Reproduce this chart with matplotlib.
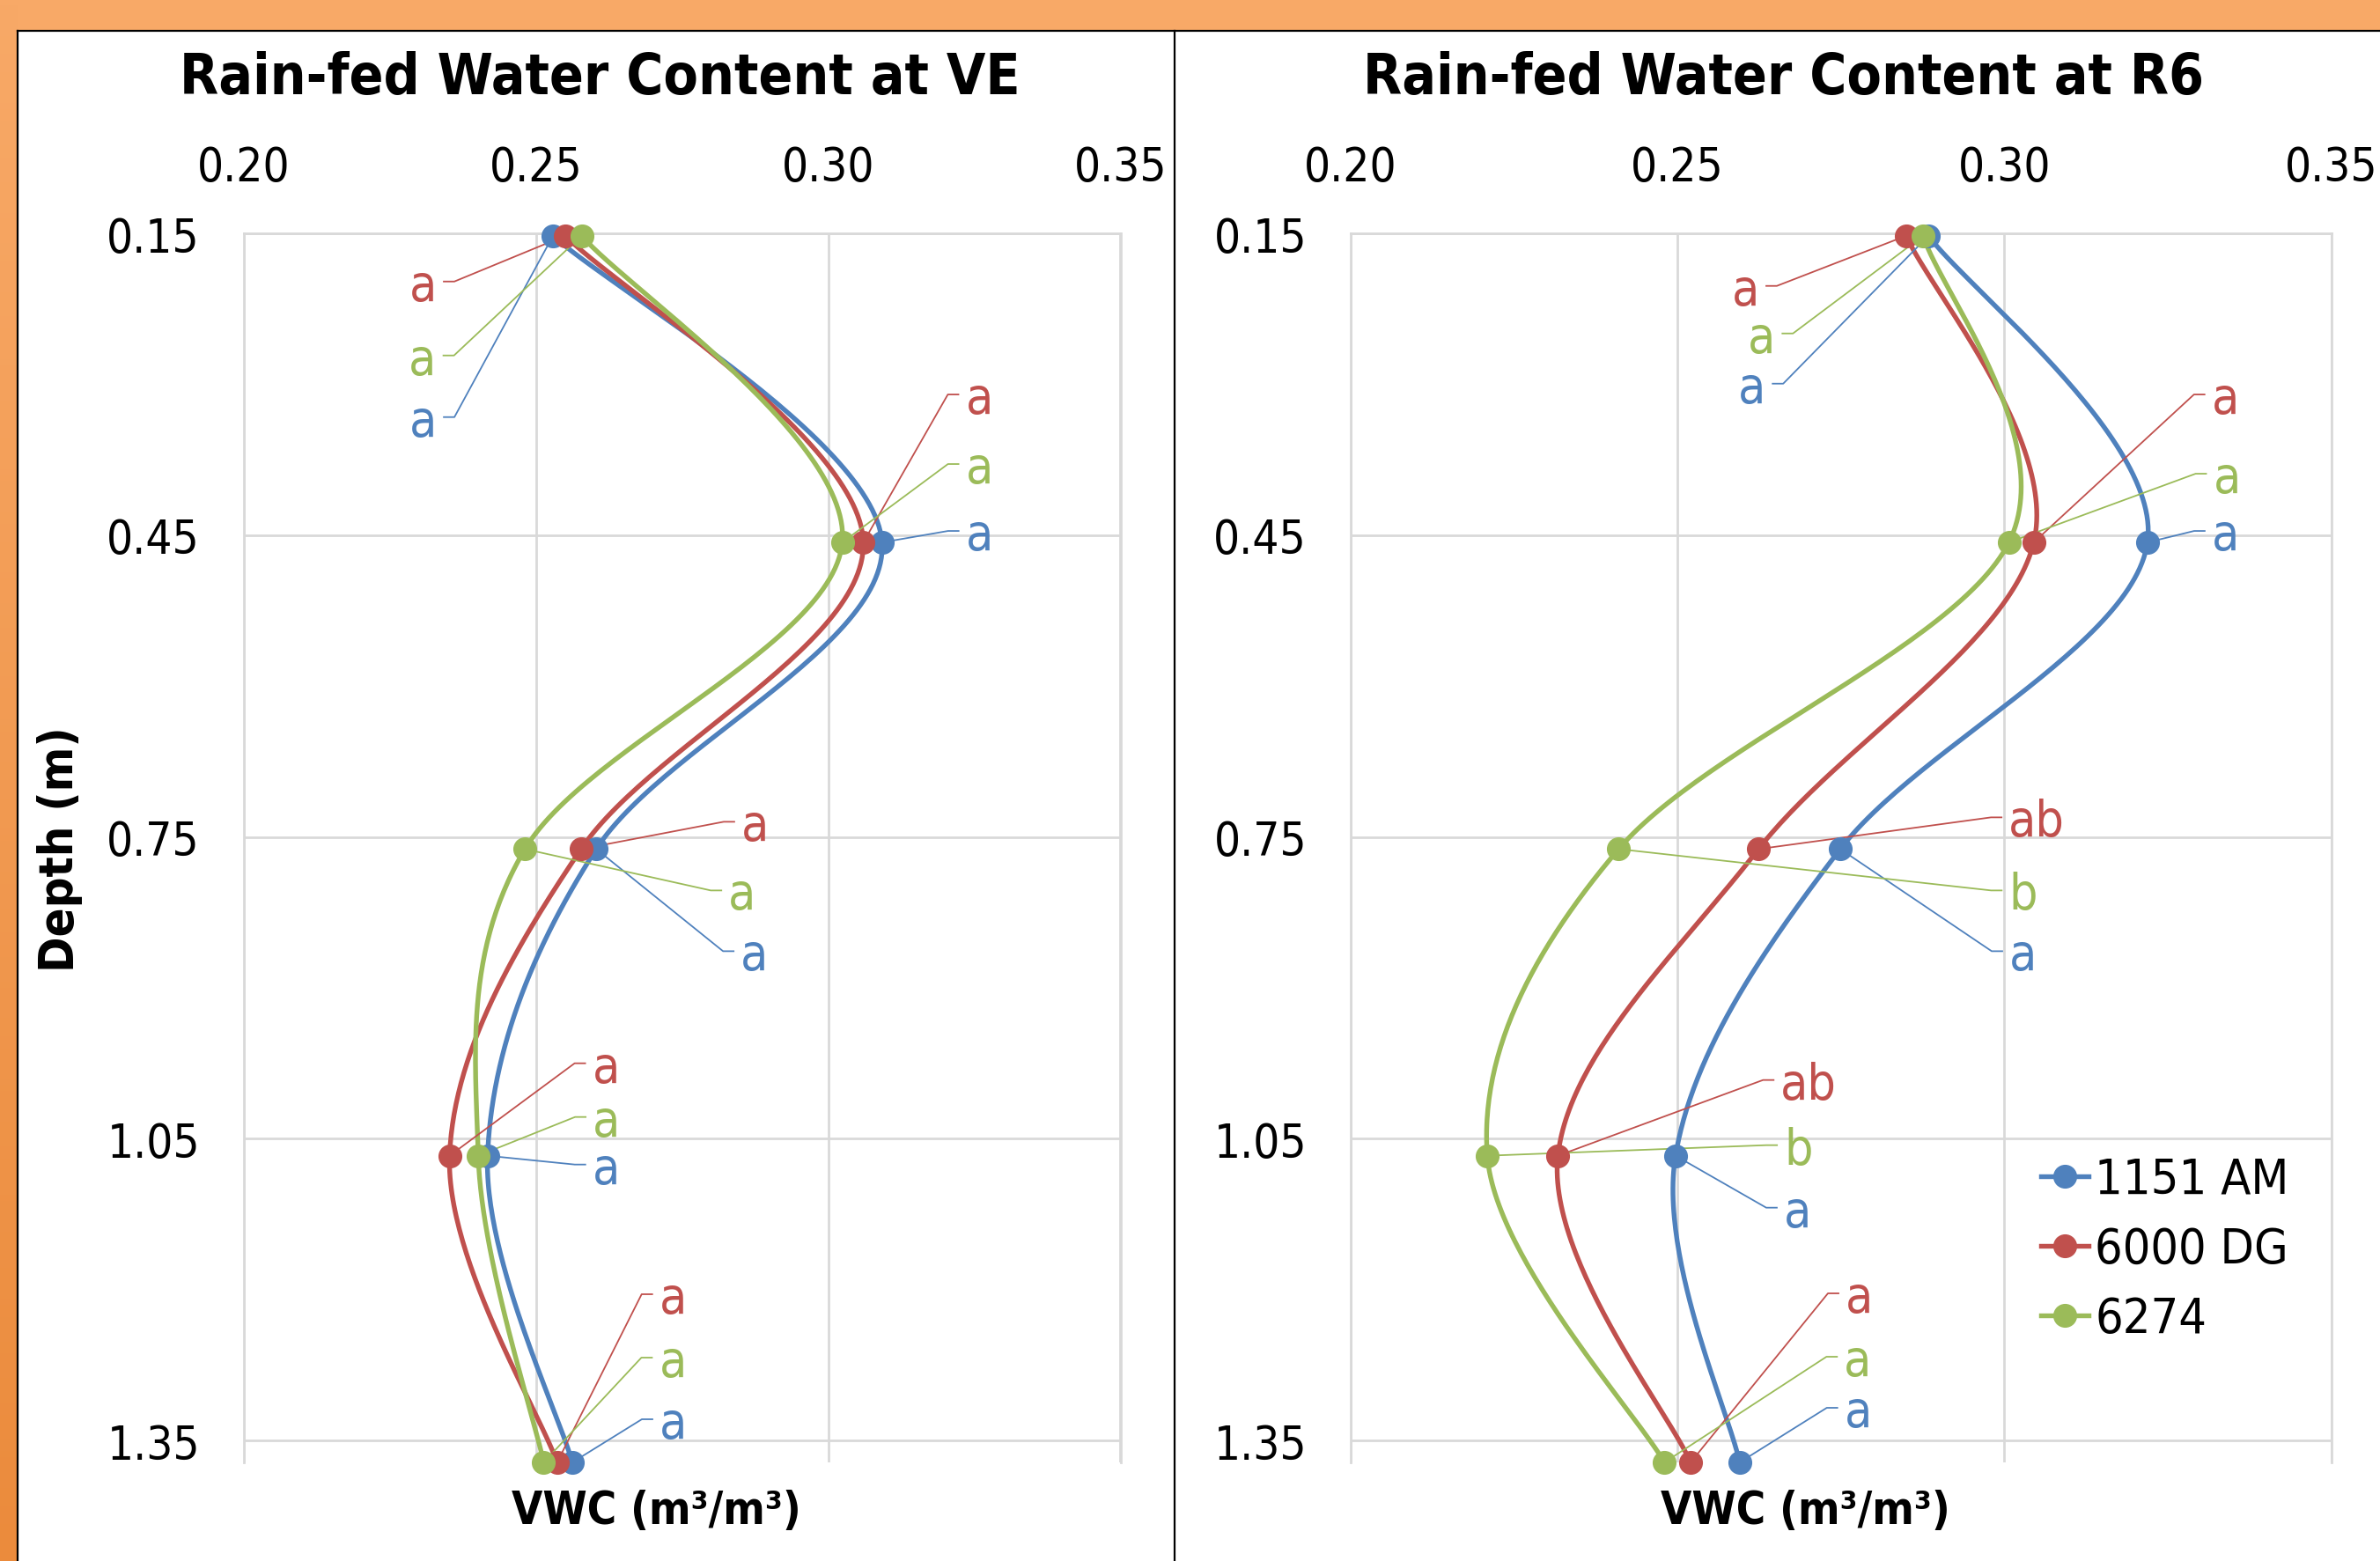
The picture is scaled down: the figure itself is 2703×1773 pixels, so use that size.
import numpy as np
import matplotlib
matplotlib.use("Agg")
import matplotlib.pyplot as plt
from matplotlib import font_manager as fm
from matplotlib.font_manager import FontProperties
from matplotlib.patches import Rectangle
from matplotlib.lines import Line2D

# ---------------- data ----------------
depth_m = [0.1524, 0.4572, 0.762, 1.0668, 1.3716]
depth_ticks = [0.15, 0.45, 0.75, 1.05, 1.35]
vwc_ticks = [0.20, 0.25, 0.30, 0.35]
cultivars = ["1151 AM", "6000 DG", "6274"]

ve_1151am = [0.2529, 0.3092, 0.2603, 0.2417, 0.2562]
ve_6000dg = [0.2550, 0.3060, 0.2577, 0.2352, 0.2536]
ve_6274 = [0.2578, 0.3024, 0.2481, 0.2401, 0.2513]

r6_1151am = [0.2884, 0.3219, 0.2749, 0.2497, 0.2595]
r6_6000dg = [0.2850, 0.3045, 0.2624, 0.2317, 0.2520]
r6_6274 = [0.2876, 0.3007, 0.2410, 0.2209, 0.2480]

ve_letters_1151am = ["a", "a", "a", "a", "a"]
ve_letters_6000dg = ["a", "a", "a", "a", "a"]
ve_letters_6274 = ["a", "a", "a", "a", "a"]
r6_letters_1151am = ["a", "a", "a", "a", "a"]
r6_letters_6000dg = ["a", "a", "ab", "ab", "a"]
r6_letters_6274 = ["a", "a", "b", "b", "a"]

titles = ["Rain-fed Water Content at VE", "Rain-fed Water Content at R6"]
xlabel = "VWC (m\u00b3/m\u00b3)"
ylabel = "Depth (m)"

colors = ["#4F81BD", "#C0504D", "#9BBB59"]

# leader-line layout: pixel offsets (dx, dy-down) of the label stub from its point
ve_offsets = [
    [(-124, 206), (87, -13), (156, 116), (111, 10), (91, -49)],     # 1151 AM
    [(-138, 52), (108, -168), (174, -31), (154, -105), (108, -191)],  # 6000 DG
    [(-157, 136), (132, -89), (223, 47), (122, -44), (123, -119)],    # 6274
]
r6_offsets = [
    [(-177, 168), (65, -13), (184, 116), (115, 59), (111, -62)],
    [(-159, 57), (194, -168), (276, -36), (245, -86), (168, -192)],
    [(-160, 111), (224, -78), (435, 47), (329, -12), (196, -120)],
]

# ---------------- fonts ----------------
stretch = "normal"
try:
    f = fm.findfont(FontProperties(family="DejaVu Sans", stretch="condensed"),
                    fallback_to_default=False)
    if "ondensed" in f:
        stretch = "condensed"
except Exception:
    pass
plt.rcParams["font.family"] = ["DejaVu Sans"]
plt.rcParams["font.stretch"] = stretch

W, H = 2703, 1774
DPI = 100
fig = plt.figure(figsize=(W / DPI, H / DPI), dpi=DPI)
fig.patch.set_facecolor("white")


def fx(px):
    return px / W


def fy(py):
    return 1 - py / H


# background frame
fig.add_artist(Rectangle((0, fy(36)), 1, 36 / H, transform=fig.transFigure,
                         facecolor="#F8A967", edgecolor="none", zorder=0))
ax_bg = fig.add_axes([0, 0, fx(20), 1])
grad = np.linspace(0, 1, 256)[:, None]
c_top = np.array(matplotlib.colors.to_rgb("#F8A967"))
c_bot = np.array(matplotlib.colors.to_rgb("#EB8B3C"))
img = c_top[None, None, :] * (1 - grad[:, :, None]) + c_bot[None, None, :] * grad[:, :, None]
ax_bg.imshow(img, aspect="auto", extent=[0, 1, 0, 1])
ax_bg.axis("off")
for seg in [([fx(20), 1], [fy(36), fy(36)]),
            ([fx(20), fx(20)], [0, fy(36)]),
            ([fx(1334), fx(1334)], [0, fy(36)])]:
    fig.add_artist(Line2D(seg[0], seg[1], transform=fig.transFigure,
                          color="black", lw=1.6, zorder=5))

TOP, BOT = 266, 1662
panels = [
    dict(x0=277, x1=1272.5, series=[ve_1151am, ve_6000dg, ve_6274],
         letters=[ve_letters_1151am, ve_letters_6000dg, ve_letters_6274],
         offsets=ve_offsets, title=titles[0], tcx=681, xlcx=745, ylab=True),
    dict(x0=1534, x1=2647.5, series=[r6_1151am, r6_6000dg, r6_6274],
         letters=[r6_letters_1151am, r6_letters_6000dg, r6_letters_6274],
         offsets=r6_offsets, title=titles[1], tcx=2025, xlcx=2050, ylab=False),
]


def excel_smooth(ax, xs, ys, n=60):
    pts = ax.transData.transform(np.column_stack([xs, ys]))
    P = np.vstack([pts[0], pts, pts[-1]])
    out = []
    t = np.linspace(0, 1, n)[:, None]
    for i in range(1, len(P) - 2):
        p0, p1, p2, p3 = P[i - 1], P[i], P[i + 1], P[i + 2]
        c1 = p1 + (p2 - p0) / 6.0
        c2 = p2 - (p3 - p1) / 6.0
        seg = ((1 - t) ** 3) * p1 + 3 * ((1 - t) ** 2) * t * c1 + 3 * (1 - t) * (t ** 2) * c2 + (t ** 3) * p2
        out.append(seg if i == 1 else seg[1:])
    return ax.transData.inverted().transform(np.vstack(out))


GRID = "#D9D9D9"
LW = 3.9
MS = 18.5
for p in panels:
    ax = fig.add_axes([fx(p["x0"]), fy(BOT), (p["x1"] - p["x0"]) / W, (BOT - TOP) / H])
    ax.set_xlim(0.20, 0.35)
    ax.set_ylim(1.3716, 0.15)
    ax.xaxis.tick_top()
    ax.set_xticks(vwc_ticks)
    ax.set_xticklabels([f"{v:.2f}" for v in vwc_ticks])
    ax.set_yticks(depth_ticks)
    ax.set_yticklabels([f"{v:.2f}" for v in depth_ticks])
    ax.tick_params(axis="both", length=0, labelsize=38, colors="black")
    ax.tick_params(axis="x", pad=35)
    ax.tick_params(axis="y", pad=36)
    ax.grid(True, color=GRID, lw=2.0)
    ax.set_axisbelow(True)
    for s in ["left", "top", "right"]:
        ax.spines[s].set_color(GRID)
        ax.spines[s].set_linewidth(2.0)
    ax.spines["bottom"].set_visible(False)
    ax.set_facecolor("white")

    inv = ax.transData.inverted()
    for k, (vals, col) in enumerate(zip(p["series"], colors)):
        sm = excel_smooth(ax, vals, depth_m)
        ax.plot(sm[:, 0], sm[:, 1], color=col, lw=LW, clip_on=False, zorder=3,
                solid_capstyle="round")
    for k, (vals, col) in enumerate(zip(p["series"], colors)):
        ax.plot(vals, depth_m, "o", color=col, ms=MS, clip_on=False, zorder=5)
        # data labels with leader lines
        for j, (xv, dv) in enumerate(zip(vals, depth_m)):
            dx, dy = p["offsets"][k][j]
            px, py = ax.transData.transform((xv, dv))
            sx, sy = px + dx, py - dy
            side = 1 if dx > 0 else -1
            far = sx - side * 12
            pts = inv.transform([(px, py), (far, sy), (sx, sy)])
            ax.plot(pts[:, 0], pts[:, 1], color=col, lw=1.3, clip_on=False, zorder=4)
            tx, ty = inv.transform((sx + side * 8, sy - 21))
            ax.text(tx, ty, p["letters"][k][j], color=col, fontsize=41,
                    ha="left" if side > 0 else "right", va="baseline", zorder=6)

    fig.text(fx(p["tcx"]), fy(107), p["title"], fontsize=46, fontweight="bold",
             ha="center", va="baseline")
    fig.text(fx(p["xlcx"]), fy(1731), xlabel, fontsize=36.5, fontweight="bold",
             ha="center", va="baseline")
    if p["ylab"]:
        fig.text(fx(68), fy(965), ylabel, fontsize=39, fontweight="bold",
                 rotation=90, ha="center", va="center")
    last_ax = ax

handles = [Line2D([], [], color=c, lw=LW, marker="o", ms=MS) for c in colors]
last_ax.legend(handles, cultivars, loc="upper left",
               bbox_to_anchor=(fx(2318), fy(1314)), bbox_transform=fig.transFigure,
               frameon=False, fontsize=40, borderpad=0, borderaxespad=0,
               handlelength=0.98, handletextpad=0.12, labelspacing=0.45)

fig.savefig("out.png", dpi=DPI)
